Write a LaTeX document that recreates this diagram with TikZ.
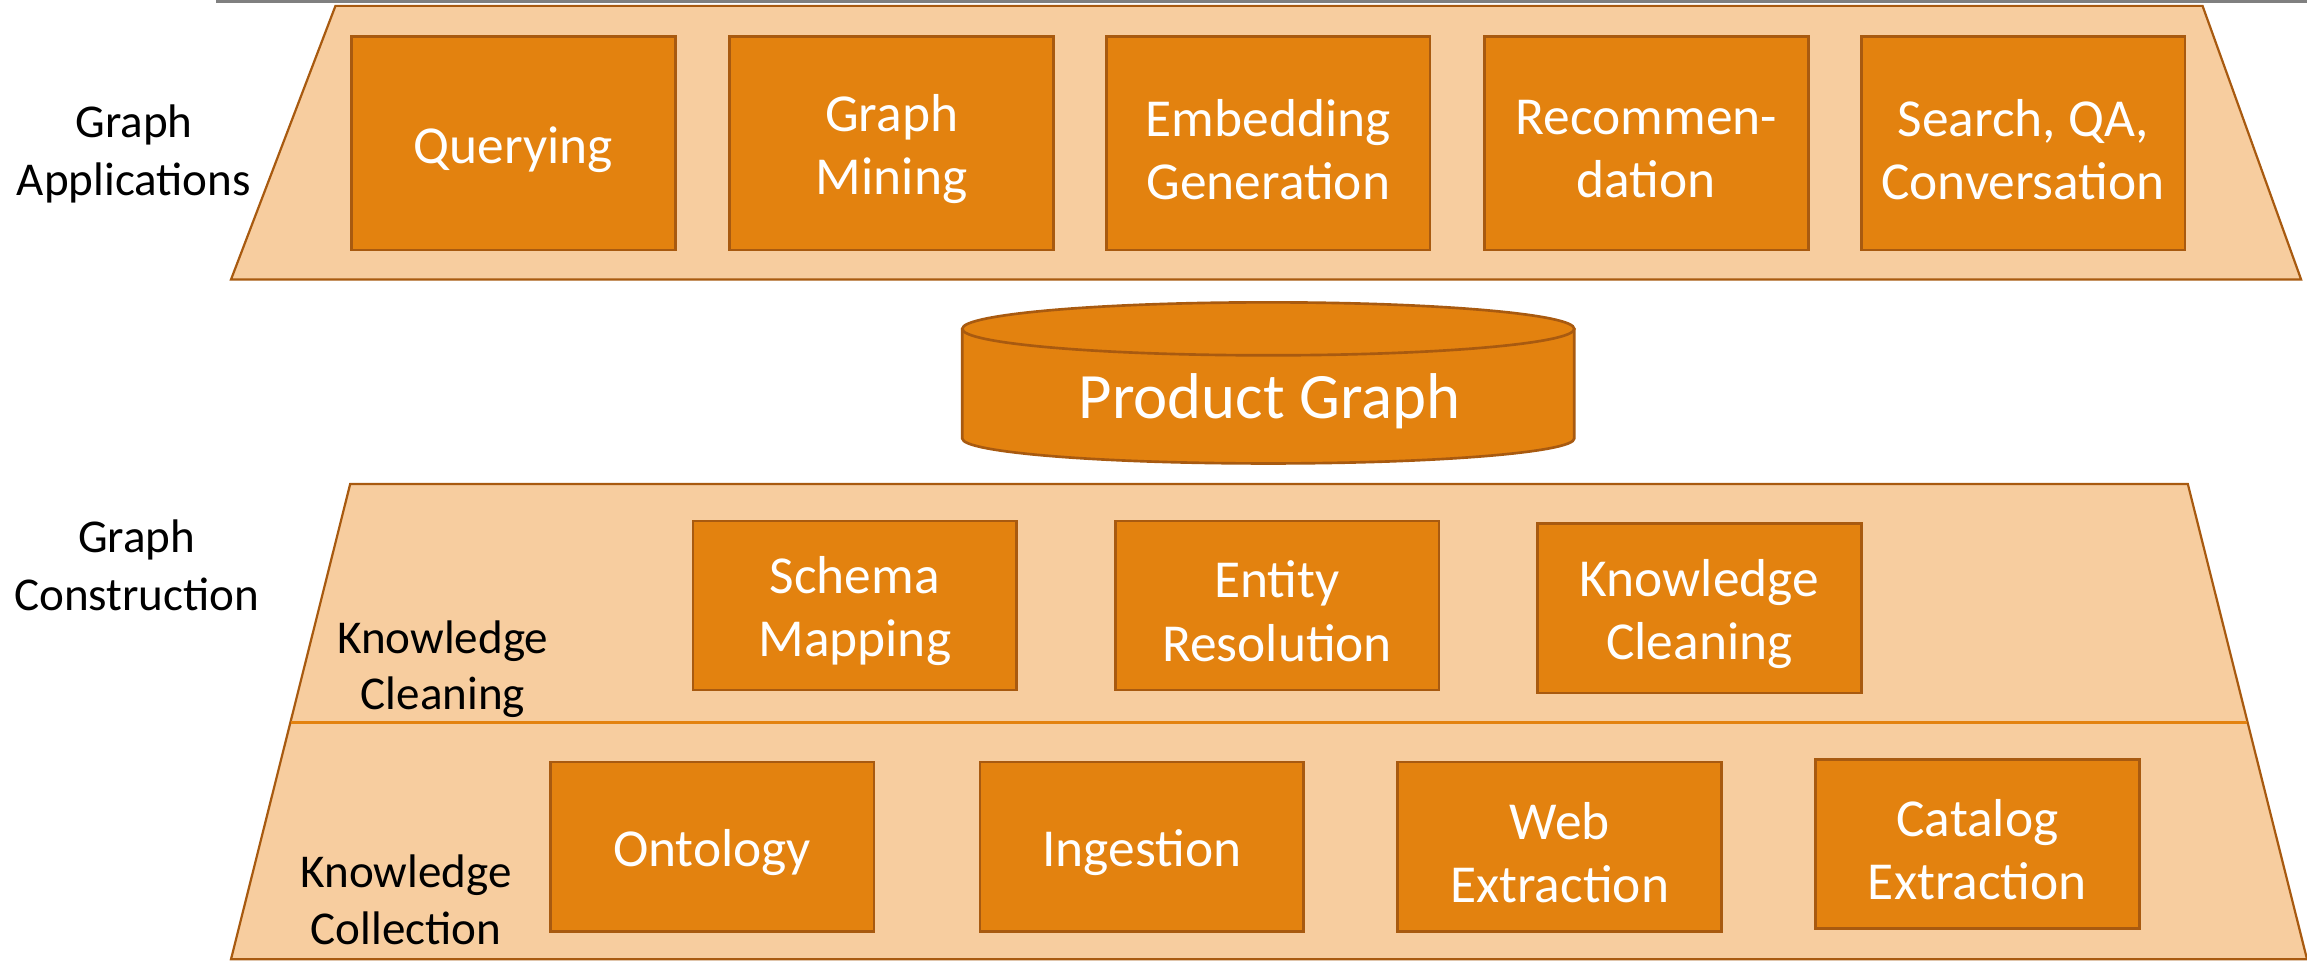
\documentclass[tikz,border=0pt]{standalone}
\usepackage{fontspec}
\setmainfont{Carlito}
\definecolor{boxfill}{HTML}{E3820F}
\definecolor{boxline}{HTML}{A85A10}
\definecolor{layerfill}{HTML}{F7CD9F}
\definecolor{layerline}{HTML}{A85A10}
\definecolor{sepline}{HTML}{E3820F}
\definecolor{topgray}{HTML}{808080}
\begin{document}
\begin{tikzpicture}[x=1pt,y=-1pt,
  blk/.style={draw=boxline, fill=boxfill, line width=1.8pt, minimum width=220pt, inner sep=0pt},
  tallblk/.style={blk, minimum height=145pt},
  shortblk/.style={blk, minimum height=115pt},
  boxtext/.style={text=white, align=center, font=\fontsize{36.3}{43}\selectfont, inner sep=0pt},
  layer/.style={draw=layerline, fill=layerfill, line width=1.5pt, line join=miter},
  sidelabel/.style={align=center, font=\fontsize{32}{39.5}\selectfont, inner sep=0pt}]
\useasboundingbox (0,0) rectangle (1568,653);

% top gray rule
\coordinate (gl) at (147,1);
\coordinate (gr) at (1568,1);
\draw[topgray, line width=2pt] (gl) -- (gr);

% application layer
\draw[layer] (228,4) -- (1497,4) -- (1564,190) -- (157,190) -- cycle;
\node[sidelabel] (ga) at (91,104.5) {Graph\\Applications};
\node[tallblk] (q)  at (349,97.5)  {};
\node[tallblk] (gm) at (606,97.5)  {};
\node[tallblk] (eg) at (862,97.5)  {};
\node[tallblk] (rd) at (1119,97.5) {};
\node[tallblk] (sq) at (1375,97.5) {};
\node[boxtext] (qt)  at ([yshift=-4pt]q.center)  {Querying};
\node[boxtext] (gmt) at ([yshift=-4pt]gm.center) {Graph\\Mining};
\node[boxtext] (egt) at ([yshift=-4pt]eg.center) {Embedding\\Generation};
\node[boxtext] (rdt) at ([yshift=-4pt]rd.center) {Recommen-\\dation};
\node[boxtext] (sqt) at ([yshift=-4pt]sq.center) {Search, QA,\\Conversation};

% product graph cylinder
\fill[boxfill] (654,223.5) -- (654,298) arc[start angle=180, end angle=0, x radius=208, y radius=17] -- (1070,223.5) -- cycle;
\draw[boxline, line width=1.8pt] (654,223.5) -- (654,298) arc[start angle=180, end angle=0, x radius=208, y radius=17] -- (1070,223.5);
\draw[boxline, fill=boxfill, line width=1.8pt] (862,223.5) ellipse[x radius=208, y radius=18];
\node[text=white, font=\fontsize{44}{48}\selectfont, inner sep=0pt] (pg) at (863,273) {Product Graph};

% construction layer
\draw[layer] (238,329) -- (1487,329) -- (1568,652) -- (157,652) -- cycle;
\coordinate (sl) at (197.5,491);
\coordinate (sr) at (1527.5,491);
\draw[sepline, line width=1.5pt] (sl) -- (sr);
\node[sidelabel] (gc) at (93,384) {Graph\\Construction};
\node[sidelabel, font=\fontsize{32}{38}\selectfont] (kcl) at (301,455) {Knowledge\\Cleaning};
\node[sidelabel, font=\fontsize{32}{38.6}\selectfont] (kco) at (276,611.5) {Knowledge\\Collection};

\node[shortblk] (sm) at (581,411.5)  {};
\node[shortblk] (er) at (868,411.5)  {};
\node[shortblk] (kc) at (1155,413.5) {};
\node[boxtext] (smt) at ([yshift=-4pt]sm.center) {Schema\\Mapping};
\node[boxtext] (ert) at ([yshift=-4pt]er.center) {Entity\\Resolution};
\node[boxtext] (kct) at ([yshift=-4pt]kc.center) {Knowledge\\Cleaning};

\node[shortblk] (on) at (484,575.5)  {};
\node[shortblk] (in) at (776,575.5)  {};
\node[shortblk] (we) at (1060,575.5) {};
\node[shortblk] (ce) at (1344,573.5) {};
\node[boxtext] (ont) at ([yshift=-4pt]on.center) {Ontology};
\node[boxtext] (int) at ([yshift=-4pt]in.center) {Ingestion};
\node[boxtext] (wet) at ([yshift=-4pt]we.center) {Web\\Extraction};
\node[boxtext] (cet) at ([yshift=-4pt]ce.center) {Catalog\\Extraction};
\end{tikzpicture}
\end{document}
